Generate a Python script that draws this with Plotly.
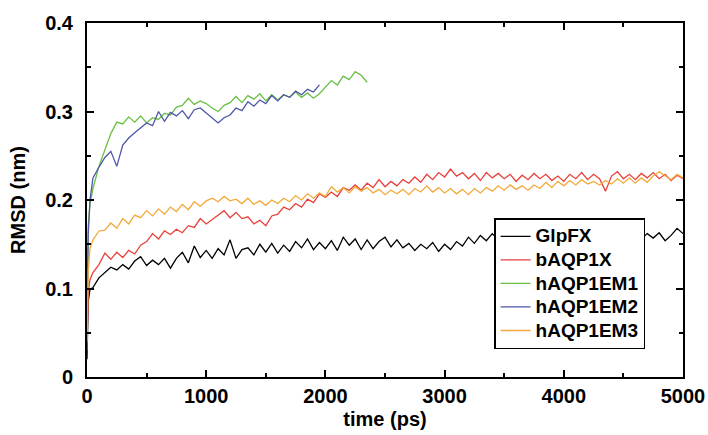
import plotly.graph_objects as go

# time axis (ps) samples
t_early = [0, 10, 25]
t_step = list(range(50, 5001, 50))
time_full = t_early + t_step

glpfx = [0.020, 0.085, 0.099,
         0.101, 0.112, 0.118, 0.124, 0.121, 0.127, 0.122, 0.131, 0.136, 0.126,
         0.132, 0.127, 0.134, 0.123, 0.134, 0.141, 0.129, 0.148, 0.135, 0.143,
         0.134, 0.145, 0.138, 0.155, 0.134, 0.144, 0.146, 0.138, 0.150, 0.141,
         0.151, 0.140, 0.149, 0.142, 0.153, 0.146, 0.156, 0.144, 0.152, 0.145,
         0.154, 0.143, 0.158, 0.149, 0.156, 0.144, 0.155, 0.145, 0.153, 0.158,
         0.147, 0.155, 0.146, 0.151, 0.143, 0.150, 0.145, 0.152, 0.142, 0.150,
         0.144, 0.153, 0.148, 0.158, 0.151, 0.160, 0.154, 0.162, 0.155, 0.163,
         0.156, 0.161, 0.155, 0.162, 0.158, 0.164, 0.157, 0.163, 0.156, 0.162,
         0.158, 0.164, 0.157, 0.162, 0.156, 0.163, 0.159, 0.165, 0.157, 0.162,
         0.158, 0.164, 0.156, 0.162, 0.157, 0.163, 0.154, 0.160, 0.168, 0.162]

baqp1x = [0.030, 0.095, 0.110,
          0.118, 0.127, 0.140, 0.133, 0.141, 0.135, 0.143, 0.139, 0.149, 0.153,
          0.162, 0.156, 0.165, 0.161, 0.167, 0.163, 0.171, 0.169, 0.179, 0.173,
          0.178, 0.183, 0.188, 0.180, 0.186, 0.179, 0.181, 0.173, 0.177, 0.171,
          0.182, 0.184, 0.192, 0.189, 0.196, 0.192, 0.201, 0.197, 0.207, 0.203,
          0.209, 0.204, 0.214, 0.211, 0.217, 0.211, 0.219, 0.214, 0.223, 0.215,
          0.221, 0.216, 0.223, 0.219, 0.226, 0.220, 0.229, 0.223, 0.231, 0.226,
          0.235, 0.227, 0.231, 0.224, 0.230, 0.222, 0.231, 0.225, 0.230, 0.224,
          0.229, 0.221, 0.228, 0.223, 0.230, 0.224, 0.229, 0.222, 0.227, 0.221,
          0.229, 0.224, 0.231, 0.223, 0.229, 0.224, 0.210, 0.227, 0.232, 0.224,
          0.229, 0.223, 0.230, 0.225, 0.231, 0.224, 0.229, 0.222, 0.228, 0.224]

haqp1em3 = [0.040, 0.120, 0.145,
            0.155, 0.165, 0.166, 0.174, 0.168, 0.179, 0.173, 0.183, 0.180, 0.188,
            0.182, 0.190, 0.184, 0.192, 0.187, 0.195, 0.189, 0.198, 0.193, 0.199,
            0.202, 0.198, 0.204, 0.199, 0.201, 0.196, 0.202, 0.195, 0.199, 0.194,
            0.200, 0.196, 0.202, 0.198, 0.205, 0.200, 0.207, 0.202, 0.208, 0.204,
            0.215, 0.209, 0.214, 0.208, 0.215, 0.210, 0.214, 0.208, 0.212, 0.206,
            0.211, 0.207, 0.212, 0.206, 0.213, 0.209, 0.216, 0.209, 0.214, 0.208,
            0.213, 0.207, 0.212, 0.206, 0.213, 0.208, 0.214, 0.210, 0.216, 0.211,
            0.217, 0.212, 0.216, 0.211, 0.217, 0.213, 0.220, 0.214, 0.221, 0.216,
            0.222, 0.217, 0.223, 0.218, 0.221, 0.217, 0.222, 0.218, 0.224, 0.219,
            0.225, 0.219, 0.225, 0.220, 0.227, 0.232, 0.227, 0.223, 0.229, 0.225]

haqp1em1 = [0.050, 0.170, 0.195,
            0.213, 0.238, 0.257, 0.275, 0.288, 0.286, 0.294, 0.288, 0.295, 0.287,
            0.293, 0.291, 0.298, 0.296, 0.305, 0.307, 0.315, 0.308, 0.312, 0.309,
            0.304, 0.300, 0.307, 0.310, 0.317, 0.310, 0.318, 0.314, 0.320, 0.312,
            0.319, 0.313, 0.319, 0.316, 0.322, 0.316, 0.321, 0.315, 0.320, 0.328,
            0.335, 0.330, 0.340, 0.336, 0.345, 0.341, 0.333]

haqp1em2 = [0.060, 0.160, 0.200,
            0.225, 0.237, 0.248, 0.255, 0.238, 0.262, 0.270, 0.276, 0.281, 0.287,
            0.284, 0.300, 0.289, 0.299, 0.295, 0.301, 0.292, 0.302, 0.304, 0.298,
            0.293, 0.287, 0.293, 0.296, 0.304, 0.301, 0.311, 0.306, 0.313, 0.309,
            0.318, 0.312, 0.319, 0.316, 0.323, 0.319, 0.325, 0.322, 0.330]

names = ["GlpFX", "bAQP1X", "hAQP1EM1", "hAQP1EM2", "hAQP1EM3"]
series = [glpfx, baqp1x, haqp1em1, haqp1em2, haqp1em3]
colors = ["#000000", "#e8413c", "#6abf45", "#4c56a6", "#f2a93b"]

x_ticks = [0, 1000, 2000, 3000, 4000, 5000]
y_ticks = [0, 0.1, 0.2, 0.3, 0.4]
y_labels = ["0", "0.1", "0.2", "0.3", "0.4"]

FAMILY = "Liberation Sans, Arial, sans-serif"
FONT = dict(family=FAMILY, size=20, color="black", weight="bold")

fig = go.Figure()
for i in range(5):
    fig.add_trace(go.Scatter(
        x=time_full[:len(series[i])], y=series[i], mode="lines",
        name='<span style="font-size:19px">' + names[i] + '</span>',
        line=dict(color=colors[i], width=1.3),
    ))

axis_common = dict(
    showline=True, linecolor="black", linewidth=2, mirror="ticks",
    ticks="inside", ticklen=7, tickwidth=1.5, tickcolor="black",
    showgrid=False, zeroline=False, tickfont=FONT, automargin=False,
)

fig.update_xaxes(range=[0, 5000], tickvals=x_ticks,
                 minor=dict(dtick=500, ticks="inside", ticklen=4, tickwidth=1.5, tickcolor="black"),
                 title=dict(text="time (ps)", font=FONT, standoff=6),
                 **axis_common)
fig.update_yaxes(range=[0, 0.4], tickvals=y_ticks, ticktext=y_labels,
                 minor=dict(dtick=0.05, ticks="inside", ticklen=4, tickwidth=1.5, tickcolor="black"),
                 title=dict(text="RMSD (nm)", font=FONT, standoff=14),
                 ticklabelstandoff=8,
                 **axis_common)

fig.update_layout(
    width=708, height=435,
    margin=dict(l=87, r=25, t=23, b=58),
    plot_bgcolor="white", paper_bgcolor="white",
    font=FONT,
    legend=dict(
        x=0.683, y=0.449, xanchor="left", yanchor="top",
        bgcolor="white", bordercolor="black", borderwidth=1.5,
        font=dict(family=FAMILY, size=15.8, color="black", weight="bold"),
        tracegroupgap=0, itemwidth=30,
    ),
    showlegend=True,
)

fig.write_html(
    "out.html",
    config={"displayModeBar": False},
    post_script="document.body.style.margin='0px';document.body.style.overflow='hidden';",
)
